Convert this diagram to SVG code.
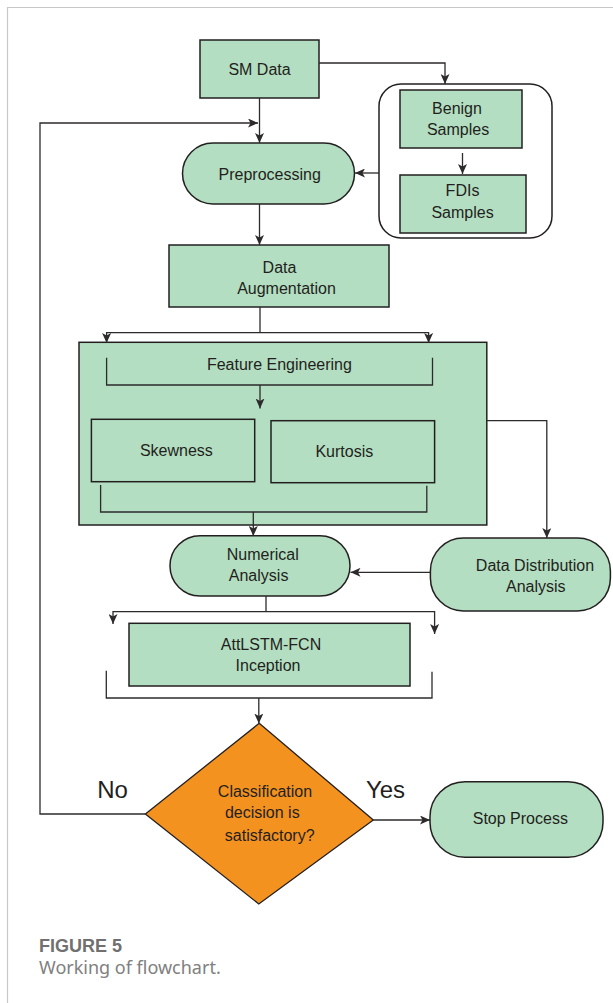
<svg xmlns="http://www.w3.org/2000/svg" width="613" height="1003" viewBox="0 0 613 1003">
<style>
.box{fill:#b3dec1;stroke:#231f20;stroke-width:1.5}
.cont{fill:#ffffff;stroke:#231f20;stroke-width:1.5}
.dia{fill:#f4921f;stroke:#231f20;stroke-width:1.3}
.ln{fill:none;stroke:#2d2a2b;stroke-width:1.3}
.lna{fill:none;stroke:#2d2a2b;stroke-width:1.3;marker-end:url(#ah)}
.t{font-family:"Liberation Sans",Arial,sans-serif;font-size:16px;fill:#231f20;text-anchor:middle}
.big{font-family:"Liberation Sans",Arial,sans-serif;font-size:24px;fill:#231f20;text-anchor:middle}
.frame{fill:none;stroke:#c8c8c8;stroke-width:1.2}
</style>
<defs>
<marker id="ah" markerWidth="11" markerHeight="9" refX="10" refY="4.5" orient="auto" markerUnits="userSpaceOnUse">
<path d="M0,0 L10,4.5 L0,9 L2.5,4.5 Z" fill="#2d2a2b"/>
</marker>
</defs>
<rect width="613" height="1003" fill="#ffffff"/>
<path class="frame" d="M7.5,1003 V7.5 H613"/>

<g id="sm-data">
<rect class="box" x="200" y="40" width="119" height="58"/>
<text class="t" x="259.5" y="75">SM Data</text>
</g>

<g id="samples-group">
<rect class="cont" x="379" y="84" width="173" height="154" rx="22"/>
</g>

<g id="benign-samples">
<rect class="box" x="400" y="90" width="122" height="58"/>
<text class="t" x="457" y="113.5">Benign</text>
<text class="t" x="458" y="135">Samples</text>
</g>

<g id="fdis-samples">
<rect class="box" x="400" y="175" width="126" height="58"/>
<text class="t" x="462.5" y="196">FDIs</text>
<text class="t" x="462.5" y="218">Samples</text>
</g>

<g id="preprocessing">
<rect class="box" x="182.5" y="143" width="172" height="61" rx="30.5"/>
<text class="t" x="269.7" y="179.5">Preprocessing</text>
</g>

<g id="data-augmentation">
<rect class="box" x="169" y="245" width="220" height="62"/>
<text class="t" x="279.5" y="272.5">Data</text>
<text class="t" x="286.5" y="294">Augmentation</text>
</g>

<g id="feature-engineering">
<rect class="box" x="79" y="342.3" width="407.8" height="182.7"/>
<text class="t" x="279.4" y="370">Feature Engineering</text>
</g>

<g id="skewness">
<rect class="box" x="91.4" y="419.3" width="163.3" height="62.4"/>
<text class="t" x="176.4" y="455.5">Skewness</text>
</g>

<g id="kurtosis">
<rect class="box" x="271" y="420.7" width="163.6" height="62"/>
<text class="t" x="344.3" y="456.5">Kurtosis</text>
</g>

<g id="numerical-analysis">
<rect class="box" x="170" y="535.7" width="180" height="60.3" rx="30"/>
<text class="t" x="262.8" y="559.5">Numerical</text>
<text class="t" x="258.6" y="581">Analysis</text>
</g>

<g id="data-distribution-analysis">
<rect class="box" x="430.4" y="538" width="180" height="73" rx="33"/>
<text class="t" x="535" y="571">Data Distribution</text>
<text class="t" x="535.8" y="592">Analysis</text>
</g>

<g id="attlstm-fcn">
<rect class="box" x="129" y="623.3" width="281" height="62.7"/>
<text class="t" x="271" y="650">AttLSTM-FCN</text>
<text class="t" x="268" y="671">Inception</text>
</g>

<g id="decision">
<path class="dia" d="M259.2,723.3 L373.3,820 L258.8,904 L145.4,814 Z"/>
<text class="t" x="265" y="797">Classification</text>
<text class="t" x="262.3" y="818">decision is</text>
<text class="t" x="269.7" y="840.5">satisfactory?</text>
</g>

<g id="stop-process">
<rect class="box" x="430" y="781.7" width="173" height="75.6" rx="35"/>
<text class="t" x="520.3" y="824">Stop Process</text>
</g>

<g id="connectors">
<path class="lna" d="M319,63 H445 V84"/>
<path class="lna" d="M259.5,98 V143"/>
<path class="lna" d="M145.4,814 H40 V123 H258"/>
<path class="lna" d="M462.5,153 V174"/>
<path class="lna" d="M379,173 H355"/>
<path class="lna" d="M259.5,204 V245"/>
<path class="ln" d="M260,307 V332.7"/>
<path class="lna" d="M260,332.7 H106.6 V343"/>
<path class="lna" d="M260,332.7 H428.6 V343"/>
<path class="ln" d="M106.6,357.7 V385 H432.5 V357.7"/>
<path class="lna" d="M260,385 V408.5"/>
<path class="ln" d="M100.6,485 V512 H426.8 V485.7"/>
<path class="lna" d="M253.3,512 V536"/>
<path class="lna" d="M486.8,420.7 H546.8 V538"/>
<path class="lna" d="M430.4,572.3 H350.5"/>
<path class="ln" d="M266,596 V611.7"/>
<path class="lna" d="M266,611.7 H113 V624"/>
<path class="lna" d="M266,611.7 H434.6 V634"/>
<path class="ln" d="M106.3,670.7 V698 H432 V671.7"/>
<path class="lna" d="M258.8,698 V723.5"/>
<path class="lna" d="M373.3,820 H430"/>
</g>

<g id="labels">
<text class="big" x="112.5" y="798">No</text>
<text class="big" x="385.5" y="798">Yes</text>
</g>

<g id="caption">
<text x="39" y="952" font-family="'Liberation Sans',Arial,sans-serif" font-size="18" font-weight="bold" fill="#707070">FIGURE 5</text>
<text x="39" y="974" font-family="'Noto Sans','Liberation Sans',sans-serif" font-size="18" fill="#808080">Working of flowchart.</text>
</g>
</svg>
